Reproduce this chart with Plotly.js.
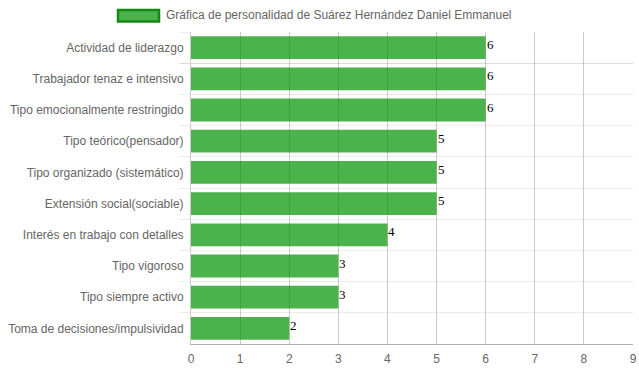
<!DOCTYPE html>
<html>
<head>
<meta charset="utf-8">
<script src="https://cdn.plot.ly/plotly-3.0.1.min.js"></script>
<style>html,body{margin:0;padding:0;background:#fff;}#chart{width:639px;height:372px;}</style>
</head>
<body>
<div id="chart"></div>
<script>
const categories = [
  "Actividad de liderazgo",
  "Trabajador tenaz e intensivo",
  "Tipo emocionalmente restringido",
  "Tipo teórico(pensador)",
  "Tipo organizado (sistemático)",
  "Extensión social(sociable)",
  "Interés en trabajo con detalles",
  "Tipo vigoroso",
  "Tipo siempre activo",
  "Toma de decisiones/impulsividad"
];
const values = [6, 6, 6, 5, 5, 5, 4, 3, 3, 2];
const xTicks = [0, 1, 2, 3, 4, 5, 6, 7, 8, 9];
const seriesName = "Gráfica de personalidad de Suárez Hernández Daniel Emmanuel";

const barFill = "rgba(0,146,0,0.7)";
const font = "Liberation Sans, Arial, sans-serif";

const W = 639, H = 372;
const M = {l: 191, r: 6, t: 32, b: 28};
const PW = W - M.l - M.r, PH = H - M.t - M.b;
const px = x => (x - M.l) / PW;
const py = y => (H - M.b - y) / PH;

const trace = {
  type: "bar",
  orientation: "h",
  y: categories,
  x: values,
  cliponaxis: false,
  marker: {color: barFill, line: {width: 0}},
  name: seriesName,
  showlegend: false,
  hoverinfo: "none"
};

const valueLabels = values.map((v, i) => ({
  x: v, y: categories[i], xref: "x", yref: "y",
  xanchor: "left", yanchor: "middle",
  xshift: -1, yshift: 3,
  showarrow: false,
  text: String(v),
  font: {family: "Liberation Serif, Times New Roman, serif", size: 13, color: "#000"}
}));

const layout = {
  width: W,
  height: H,
  margin: {l: M.l, r: M.r, t: M.t, b: M.b, pad: 0},
  paper_bgcolor: "#fff",
  plot_bgcolor: "#fff",
  bargap: 0.27,
  showlegend: false,
  font: {family: font, size: 12, color: "#666"},
  xaxis: {
    range: [0, 9],
    tickvals: xTicks,
    ticktext: xTicks.map(String),
    showgrid: true,
    gridcolor: "rgba(0,0,0,0.2)",
    gridwidth: 1,
    zeroline: false,
    showline: true,
    linecolor: "rgba(0,0,0,0.3)",
    linewidth: 1,
    ticks: "",
    ticklabelstandoff: 4,
    tickfont: {family: font, size: 12, color: "#666"},
    fixedrange: true
  },
  yaxis: {
    type: "category",
    categoryorder: "array",
    categoryarray: categories,
    autorange: "reversed",
    tickson: "boundaries",
    showgrid: true,
    gridcolor: "rgba(0,0,0,0.07)",
    gridwidth: 1,
    ticks: "outside",
    ticklen: 11,
    tickcolor: "rgba(0,0,0,0.07)",
    showline: true,
    linecolor: "rgba(0,0,0,0.2)",
    linewidth: 1,
    ticklabelstandoff: 4,
    tickfont: {family: font, size: 12, color: "#666"},
    fixedrange: true
  },
  shapes: [{
    type: "rect",
    xref: "paper", yref: "paper",
    x0: px(118), x1: px(159),
    y0: py(21.5), y1: py(10),
    fillcolor: barFill,
    line: {color: "#138a13", width: 2.5}
  }],
  annotations: [{
    xref: "paper", yref: "paper",
    x: px(164), y: py(15.5),
    xanchor: "left", yanchor: "middle",
    showarrow: false,
    text: seriesName,
    font: {family: font, size: 12, color: "#666"}
  }].concat(valueLabels)
};

Plotly.newPlot("chart", [trace], layout, {displayModeBar: false, staticPlot: true});
</script>
</body>
</html>
